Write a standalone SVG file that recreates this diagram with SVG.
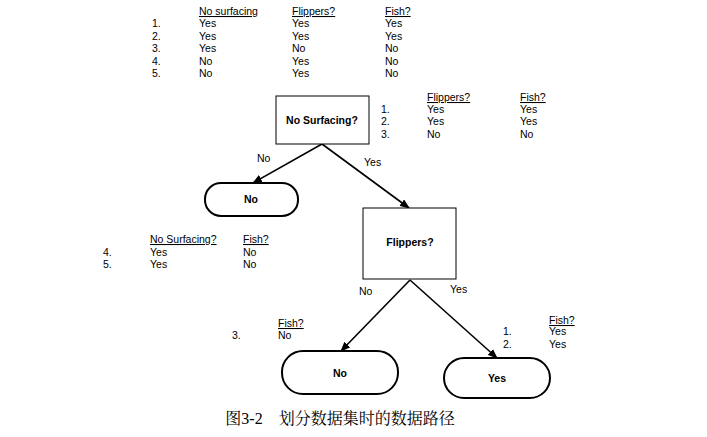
<svg xmlns="http://www.w3.org/2000/svg" width="707" height="437" viewBox="0 0 707 437">
<style>
text{font-family:"Liberation Sans",Arial,sans-serif;font-size:10.5px;fill:#000}
.h{text-decoration:underline}
.b{font-weight:bold;text-anchor:middle}
.box{fill:#fff;stroke:#000;stroke-width:1}
.term{fill:#fff;stroke:#000;stroke-width:2}
.c{stroke:#000;stroke-width:1.6;fill:none;marker-end:url(#a)}
.cap{font-family:"Liberation Serif","Noto Serif CJK SC","Noto Sans CJK SC",serif;font-size:16px;text-anchor:middle}
</style>
<defs><marker id="a" markerWidth="10" markerHeight="8" refX="9" refY="4" orient="auto" markerUnits="userSpaceOnUse"><path d="M0,0L10,4L0,8z" fill="#000"/></marker></defs>
<rect width="707" height="437" fill="#fff"/>
<g id="table-top">
<text x="199" y="15" class="h">No surfacing</text><text x="292" y="15" class="h">Flippers?</text><text x="385" y="15" class="h">Fish?</text>
<text x="152" y="27">1.</text><text x="199" y="27">Yes</text><text x="292" y="27">Yes</text><text x="385" y="27">Yes</text>
<text x="152" y="40">2.</text><text x="199" y="40">Yes</text><text x="292" y="40">Yes</text><text x="385" y="40">Yes</text>
<text x="152" y="52">3.</text><text x="199" y="52">Yes</text><text x="292" y="52">No</text><text x="385" y="52">No</text>
<text x="152" y="65">4.</text><text x="199" y="65">No</text><text x="292" y="65">Yes</text><text x="385" y="65">No</text>
<text x="152" y="77">5.</text><text x="199" y="77">No</text><text x="292" y="77">Yes</text><text x="385" y="77">No</text>
</g>
<g id="table-right1">
<text x="427" y="101" class="h">Flippers?</text><text x="520" y="101" class="h">Fish?</text>
<text x="381" y="113">1.</text><text x="427" y="113">Yes</text><text x="520" y="113">Yes</text>
<text x="381" y="125">2.</text><text x="427" y="125">Yes</text><text x="520" y="125">Yes</text>
<text x="381" y="138">3.</text><text x="427" y="138">No</text><text x="520" y="138">No</text>
</g>
<g id="table-left">
<text x="150" y="243" class="h">No Surfacing?</text><text x="243" y="243" class="h">Fish?</text>
<text x="103" y="256">4.</text><text x="150" y="256">Yes</text><text x="243" y="256">No</text>
<text x="103" y="268">5.</text><text x="150" y="268">Yes</text><text x="243" y="268">No</text>
</g>
<g id="table-mid">
<text x="278" y="327" class="h">Fish?</text>
<text x="232" y="339">3.</text><text x="278" y="339">No</text>
</g>
<g id="table-right2">
<text x="549" y="324" class="h">Fish?</text>
<text x="503" y="335">1.</text><text x="549" y="335">Yes</text>
<text x="503" y="348">2.</text><text x="549" y="348">Yes</text>
</g>
<g id="connectors">
<line x1="322" y1="144" x2="253" y2="183" class="c"/>
<line x1="322" y1="144" x2="409" y2="208" class="c"/>
<line x1="410" y1="280" x2="341" y2="351" class="c"/>
<line x1="410" y1="280" x2="497" y2="358" class="c"/>
<text x="257" y="162">No</text><text x="364" y="166">Yes</text>
<text x="359" y="295">No</text><text x="450" y="293">Yes</text>
</g>
<g id="n-nosurf"><rect x="276" y="96" width="93" height="48" class="box"/><text x="322" y="124" class="b">No Surfacing?</text></g>
<g id="n-no1"><rect x="205" y="183" width="93" height="33" rx="16" class="term"/><text x="251" y="203" class="b">No</text></g>
<g id="n-flippers"><rect x="363" y="208" width="93" height="71" class="box"/><text x="410" y="246" class="b">Flippers?</text></g>
<g id="n-no2"><rect x="282" y="351" width="116" height="43" rx="21" class="term"/><text x="340" y="377" class="b">No</text></g>
<g id="n-yes"><rect x="444" y="358" width="106" height="40" rx="20" class="term"/><text x="497" y="382" class="b">Yes</text></g>
<text x="340" y="424" class="cap">图3-2　划分数据集时的数据路径</text>
</svg>
